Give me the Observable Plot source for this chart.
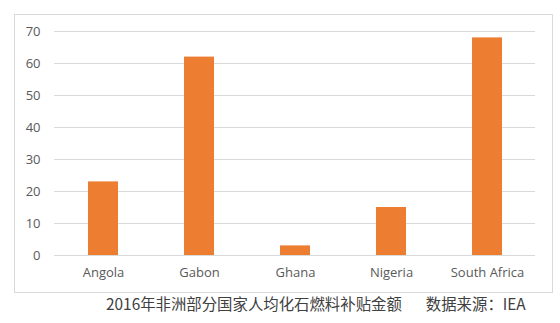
<!DOCTYPE html>
<html>
<head>
<meta charset="utf-8">
<script src="https://cdn.jsdelivr.net/npm/d3@7"></script>
<script src="https://cdn.jsdelivr.net/npm/@observablehq/plot@0.6"></script>
<style>
  html, body { margin: 0; padding: 0; background: #fff; }
  body { width: 560px; height: 323px; position: relative; overflow: hidden; }
  #frame {
    position: absolute; left: 14px; top: 14px;
    width: 537px; height: 277px;
    border: 1px solid #d9d9d9;
  }
  #frame svg { display: block; }
  #caption {
    position: absolute; left: 106px; top: 293px;
    font-family: "Noto Sans CJK SC", sans-serif;
    font-size: 15.4px; color: #404040; white-space: nowrap; line-height: 20px;
  }
  #caption .src { margin-left: 24px; }
</style>
</head>
<body>
<div id="frame"></div>
<div id="caption"><span>2016年非洲部分国家人均化石燃料补贴金额</span><span class="src">数据来源：IEA</span></div>
<script>
// Per-capita fossil fuel subsidies, selected African countries, 2016
const countries = ["Angola", "Gabon", "Ghana", "Nigeria", "South Africa"];
const subsidies = [23, 62, 3, 15, 68];
const yTicks = [0, 10, 20, 30, 40, 50, 60, 70];

const data = countries.map((c, i) => ({country: c, value: subsidies[i]}));

const chart = Plot.plot({
  width: 537,
  height: 277,
  marginLeft: 39,
  marginRight: 17,
  marginTop: 16,
  marginBottom: 37,
  style: {fontFamily: "'Open Sans', sans-serif", fontSize: "13px", color: "#595959", background: "#fff"},
  x: {domain: countries, paddingInner: 0.69, paddingOuter: 0.345, label: null},
  y: {domain: [0, 70], ticks: yTicks, label: null},
  marks: [
    Plot.gridY(yTicks, {stroke: "#d9d9d9", strokeOpacity: 1, strokeWidth: 1}),
    Plot.barY(data, {x: "country", y: "value", fill: "#ED7D31"}),
    Plot.axisY(yTicks, {tickSize: 0, tickPadding: 14, fill: "#595959", tickFormat: d => String(d)}),
    Plot.axisX({tickSize: 0, tickPadding: 12, fill: "#595959"})
  ]
});
document.getElementById("frame").appendChild(chart);
</script>
</body>
</html>
